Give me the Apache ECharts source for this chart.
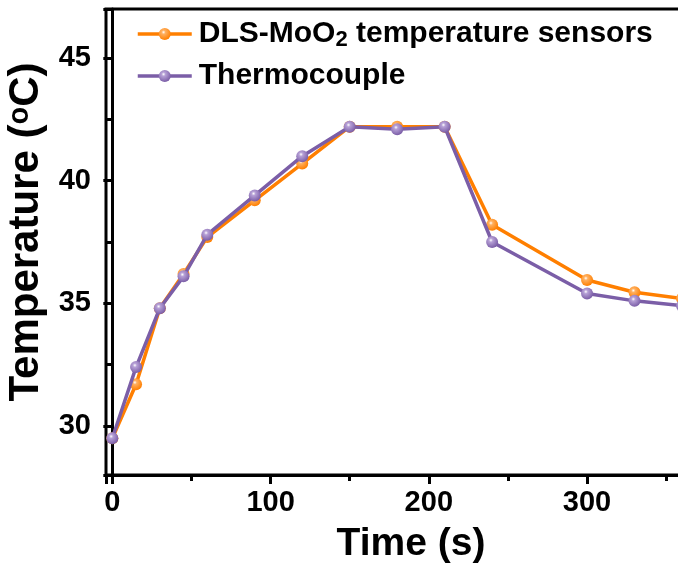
<!DOCTYPE html>
<html>
<head>
<meta charset="utf-8">
<script src="https://cdn.jsdelivr.net/npm/echarts@6/dist/echarts.min.js"></script>
<style>
  html, body { margin: 0; padding: 0; background: #fff; }
  #main { width: 678px; height: 565px; }
</style>
</head>
<body>
<div id="main"></div>
<script>
const times = [0, 15, 30, 45, 60, 90, 120, 150, 180, 210, 240, 300, 330, 360];
const dlsTemps = [29.5, 31.7, 34.8, 36.2, 37.7, 39.2, 40.7, 42.2, 42.2, 42.2, 38.2, 35.95, 35.45, 35.2];
const tcTemps = [29.5, 32.4, 34.8, 36.1, 37.8, 39.4, 41.0, 42.2, 42.1, 42.2, 37.5, 35.4, 35.1, 34.9];
const seriesNames = ["DLS-MoO2 temperature sensors", "Thermocouple"];

const FONT = "Liberation Sans, Arial, sans-serif";

function sphere(base, light) {
  return {
    type: "radial",
    x: 0.4,
    y: 0.35,
    r: 0.65,
    colorStops: [
      { offset: 0, color: "#ffffff" },
      { offset: 0.25, color: light },
      { offset: 1, color: base },
    ],
  };
}

function pairs(xs, ys) {
  return xs.map((x, i) => [x, ys[i]]);
}

const tickLabel = {
  fontFamily: FONT,
  fontWeight: "bold",
  fontSize: 29,
  color: "#000",
};

const chart = echarts.init(document.getElementById("main"));
const option = {
  animation: false,
  grid: {
    left: 106,
    right: -4,
    top: 9,
    bottom: 90,
    outerBoundsMode: "none",
    containLabel: false,
    show: true,
    borderColor: "#000",
    borderWidth: 3,
    backgroundColor: "transparent",
  },
  legend: {
    left: 131,
    top: 14,
    orient: "vertical",
    itemWidth: 54,
    itemHeight: 15,
    itemGap: 10,
    data: seriesNames,
    lineStyle: { width: 3.5 },
    formatter: function (name) {
      if (name === seriesNames[0]) {
        return "{a|DLS-MoO}{b|2}{a| temperature sensors}";
      }
      return "{a|" + name + "}";
    },
    textStyle: {
      fontFamily: FONT,
      fontWeight: "bold",
      fontSize: 30,
      color: "#000",
      padding: [0, 0, 0, 2],
      rich: {
        a: { fontFamily: FONT, fontWeight: "bold", fontSize: 30, color: "#000" },
        b: {
          fontFamily: FONT,
          fontWeight: "bold",
          fontSize: 22,
          color: "#000",
          verticalAlign: "bottom",
          padding: [12, 0, 0, 0],
        },
      },
    },
  },
  xAxis: {
    type: "value",
    min: -4,
    max: 360,
    splitNumber: 4,
    name: "Time (s)",
    nameLocation: "middle",
    nameGap: 50,
    nameTextStyle: {
      fontFamily: FONT,
      fontWeight: "bold",
      fontSize: 39,
      color: "#000",
      padding: [0, 0, 0, 34],
    },
    axisLine: { show: true, lineStyle: { color: "#000", width: 3 } },
    axisTick: { show: true, inside: false, length: 9, lineStyle: { color: "#000", width: 3 } },
    minorTick: { show: true, splitNumber: 2, length: 6, lineStyle: { color: "#000", width: 3 } },
    splitLine: { show: false },
    axisLabel: Object.assign({}, tickLabel, {
      margin: 13,
      showMinLabel: false,
      showMaxLabel: false,
      formatter: function (v) { return v < 0 || v > 350 ? "" : String(v); },
    }),
  },
  yAxis: {
    type: "value",
    min: 28,
    max: 47,
    splitNumber: 4,
    name: "{n|Temperature (}{s|o}{n|C)}",
    nameLocation: "middle",
    nameGap: 34,
    nameTextStyle: {
      fontFamily: FONT,
      fontWeight: "bold",
      fontSize: 42,
      color: "#000",
      padding: [0, 0, 0, 20],
      rich: {
        n: { fontFamily: FONT, fontWeight: "bold", fontSize: 42, color: "#000" },
        s: {
          fontFamily: FONT,
          fontWeight: "bold",
          fontSize: 29,
          color: "#000",
          verticalAlign: "top",
          padding: [0, 0, 8, 0],
        },
      },
    },
    axisLine: { show: true, lineStyle: { color: "#000", width: 3 } },
    axisTick: { show: true, inside: false, length: 9, lineStyle: { color: "#000", width: 3 } },
    minorTick: { show: true, splitNumber: 2, length: 6, lineStyle: { color: "#000", width: 3 } },
    splitLine: { show: false },
    axisLabel: Object.assign({}, tickLabel, {
      margin: 15,
      showMinLabel: false,
      showMaxLabel: false,
      formatter: function (v) { return v < 30 || v > 45 ? "" : String(v); },
    }),
  },
  series: [
    {
      name: seriesNames[0],
      type: "line",
      data: pairs(times, dlsTemps),
      symbol: "circle",
      symbolSize: 12,
      lineStyle: { color: "#ff7f00", width: 3.5 },
      itemStyle: { color: sphere("#ff7f00", "#ffb060"), borderWidth: 0 },
      z: 2,
    },
    {
      name: seriesNames[1],
      type: "line",
      data: pairs(times, tcTemps),
      symbol: "circle",
      symbolSize: 12,
      lineStyle: { color: "#7b5ea7", width: 3.5 },
      itemStyle: { color: sphere("#7b5ea7", "#b6a0d6"), borderWidth: 0 },
      z: 3,
    },
  ],
};
chart.setOption(option);
</script>
</body>
</html>
